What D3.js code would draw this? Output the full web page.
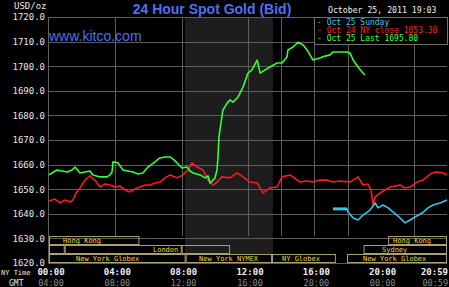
<!DOCTYPE html>
<html><head><meta charset="utf-8">
<script src="https://cdn.jsdelivr.net/npm/d3@7"></script>
<style>html,body{margin:0;padding:0;background:#000;overflow:hidden}</style>
</head><body>
<svg id="c" width="449" height="287"></svg>
<script>
// ---- data ----
const yTicks = [1620,1630,1640,1650,1660,1670,1680,1690,1700,1710,1720];
const nyTickHours = [0,4,8,12,16,20,24];
const nyTickLabels = ["00:00","04:00","08:00","12:00","16:00","20:00","20:59"];
const gmtTickLabels = ["04:00","08:00","12:00","16:00","20:00","00:00","00:59"];
const gridHours = [4,8,12,14,16,18,22];
const shadeHours = [8.2, 13.5];

// [hour, price]
const redHours  = [0,0.36,0.66,0.97,1.27,1.45,1.63,1.87,2.17,2.47,2.77,3.08,3.38,3.68,3.98,4.28,4.58,4.89,5.19,5.49,5.79,6.09,6.39,6.69,7.0,7.3,7.72,8.08,8.38,8.62,8.93,9.29,9.59,9.89,10.13,10.43,10.92,11.34,11.7,12.12,12.55,12.91,13.33,13.75,14.05,14.54,15.14,15.56,15.92,16.34,16.77,17.13,17.55,18.15,18.64,18.94,19.24,19.42,19.54,19.66,19.96,20.27,20.57,20.87,21.17,21.47,21.77,22.2,22.56,22.86,23.1,23.4,23.76,24.0];
const redPrices = [1645.2,1646.0,1644.4,1645.6,1644.8,1645.6,1648.5,1650.5,1653.7,1655.4,1653.7,1650.9,1652.1,1651.7,1650.9,1651.3,1649.7,1648.9,1650.1,1650.9,1651.7,1651.7,1652.5,1652.9,1654.6,1655.8,1654.6,1655.8,1657.8,1660.7,1659.0,1657.8,1653.7,1651.7,1652.9,1655.0,1654.6,1656.6,1655.0,1652.9,1652.5,1648.5,1650.5,1650.9,1655.0,1655.8,1652.9,1653.3,1652.9,1653.7,1653.7,1652.9,1653.3,1652.9,1655.0,1651.7,1652.1,1649.7,1643.6,1646.8,1648.5,1649.7,1650.9,1651.3,1651.7,1650.5,1650.9,1652.9,1653.7,1655.4,1656.6,1657.0,1656.6,1655.8];

const greenHours  = [0,0.18,0.48,0.78,1.09,1.39,1.57,1.87,2.17,2.47,2.65,3.08,3.5,3.68,3.8,3.86,4.16,4.46,4.76,5.07,5.37,5.67,5.97,6.39,6.69,7.0,7.3,7.54,7.72,8.02,8.32,8.5,8.69,9.11,9.41,9.59,9.71,9.89,10.01,10.13,10.19,10.25,10.37,10.49,10.74,10.92,11.1,11.4,11.7,12.0,12.24,12.55,12.73,13.03,13.33,13.75,14.05,14.35,14.41,14.72,15.02,15.32,15.56,15.92,16.34,16.64,16.95,17.13,17.55,17.97,18.15,18.34,18.64,18.88,19.06];
const greenPrices = [1655.8,1656.6,1657.8,1657.4,1657.0,1657.8,1659.0,1656.6,1657.0,1657.4,1655.8,1655.0,1655.0,1655.8,1657.0,1661.1,1660.7,1657.8,1657.4,1657.0,1656.2,1656.6,1659.0,1661.1,1662.7,1663.1,1663.1,1661.9,1660.7,1658.6,1659.0,1657.4,1656.6,1655.8,1654.6,1655.4,1652.5,1653.7,1654.6,1657.8,1663.1,1671.2,1676.9,1682.2,1685.0,1686.3,1685.4,1687.5,1691.5,1697.2,1698.5,1702.5,1697.2,1698.5,1699.7,1701.3,1701.3,1703.7,1706.6,1707.8,1709.8,1708.6,1706.6,1702.5,1703.3,1704.1,1704.6,1705.8,1705.8,1705.8,1705.4,1702.5,1699.7,1697.6,1696.4];

const cyanHours  = [17.13,17.4,17.7,17.97,18.03,18.34,18.64,18.94,19.36,19.66,19.84,20.14,20.45,20.75,21.17,21.47,21.77,22.07,22.5,22.86,23.16,23.58,24.0];
const cyanPrices = [1642.0,1642.0,1642.0,1642.0,1640.7,1638.3,1637.5,1639.5,1641.5,1644.4,1642.4,1643.6,1642.4,1640.7,1638.3,1636.3,1637.5,1638.7,1640.3,1642.4,1643.6,1644.4,1645.6];

const sessRows   = [0,0,1,1,1,1,2,2,2,2];
const sessStart  = [0,20.45,0,0.95,8.0,18.97,0,8.24,13.45,17.97];
const sessEnd    = [5.45,24,0.95,8.0,10.92,24,8.24,13.45,17.3,24];
const labelRows  = [0,0,1,1,2,2,2,2];
const labelHours = [0.85,20.75,6.27,20.08,1.63,9.05,14.05,18.94];
const labelTexts = ["Hong Kong","Hong Kong","London","Sydney","New York Globex","New York NYMEX","NY Globex","New York Globex"];

const legendTexts  = ["- Oct 25 Sunday","- Oct 24 NY close 1653.30","- Oct 25 Last 1695.80"];
const legendColors = ["#3cc8e8","#ff2020","#3cff3c"];

// ---- drawing ----
const svg = d3.select("#c");
const W=449,H=287, L=49, R=447, T=17, B=263;
const x = d3.scaleLinear().domain([0,24]).range([L,R]);
const y = d3.scaleLinear().domain([1620,1720]).range([B,T]);
const rowY = d3.scaleLinear().domain([0,1,2,3]).range([236,245,254,263]);
const mono = "'DejaVu Sans Mono', 'Liberation Mono', monospace";

svg.append("rect").attr("width",W).attr("height",H).attr("fill","#000");

// shade
svg.append("rect").attr("x",x(shadeHours[0])).attr("y",T)
  .attr("width",x(shadeHours[1])-x(shadeHours[0])).attr("height",rowY(2)-T)
  .attr("fill","#1d1d1d");

// grid
const gc = "#5e5e5e";
svg.append("g").selectAll("line").data(yTicks).join("line")
  .attr("x1",L-1).attr("x2",R).attr("y1",d=>Math.round(y(d))+0.5).attr("y2",d=>Math.round(y(d))+0.5)
  .attr("stroke",gc).attr("stroke-width",1);
svg.append("g").selectAll("line").data(gridHours).join("line")
  .attr("x1",d=>Math.round(x(d))+0.5).attr("x2",d=>Math.round(x(d))+0.5).attr("y1",T).attr("y2",rowY(0))
  .attr("stroke",gc).attr("stroke-width",1);
svg.append("line").attr("x1",L-0.5).attr("x2",L-0.5).attr("y1",T).attr("y2",B).attr("stroke",gc);

// y axis labels
const yAxis = d3.axisLeft(y).tickValues(yTicks).tickFormat(d3.format(".1f")).tickSize(0).tickPadding(4);
const ya = svg.append("g").attr("transform",`translate(${L},0)`).call(yAxis);
ya.select(".domain").remove();
ya.selectAll("text").attr("fill","#e8e8e8").style("font-family",mono).style("font-size","9px");

svg.append("text").attr("x",14).attr("y",9).text("USD/oz")
  .attr("fill","#e8e8e8").style("font-family",mono).style("font-size","9px");

// sessions
const sg = svg.append("g");
sessRows.forEach((r,i)=>{
  sg.append("rect").attr("x",x(sessStart[i])+0.5).attr("y",rowY(r)+0.5)
    .attr("width",x(sessEnd[i])-x(sessStart[i])-1).attr("height",rowY(r+1)-rowY(r)-1)
    .attr("fill","none").attr("stroke","#a8a070").attr("stroke-width",1);
});
labelRows.forEach((r,i)=>{
  sg.append("text").attr("x",x(labelHours[i])).attr("y",rowY(r)+7.2).text(labelTexts[i])
    .attr("fill","#f0d840").style("font-family",mono).style("font-size","7px");
});

// lines
const line = d3.line().x(d=>x(d[0])).y(d=>y(d[1]));
function drawSeries(hours, prices, color, w){
  svg.append("path").datum(hours.map((h,i)=>[h,prices[i]]))
    .attr("d",line).attr("fill","none").attr("stroke",color).attr("stroke-width",w)
    .attr("stroke-linejoin","round");
}
drawSeries(redHours, redPrices, "#ff1a1a", 1.6);
drawSeries(greenHours, greenPrices, "#33ff33", 1.6);
drawSeries(cyanHours, cyanPrices, "#33c6e6", 1.6);
svg.append("line").attr("x1",x(cyanHours[0])).attr("x2",x(cyanHours[3]))
  .attr("y1",y(cyanPrices[0])).attr("y2",y(cyanPrices[0])).attr("stroke","#33c6e6").attr("stroke-width",3);

// x axis labels
const xa = svg.append("g");
nyTickHours.forEach((h,i)=>{
  const last = i===nyTickHours.length-1;
  xa.append("text").attr("x", last? 448 : x(h)+2).attr("y",275).text(nyTickLabels[i])
    .attr("text-anchor", last? "end":"middle").attr("fill","#f0f0f0")
    .style("font-family",mono).style("font-size","9px").style("font-weight","bold");
  xa.append("text").attr("x", last? 448 : x(h)+2).attr("y",285.5).text(gmtTickLabels[i])
    .attr("text-anchor", last? "end":"middle").attr("fill","#8a8a8a")
    .style("font-family",mono).style("font-size","8.5px");
});
svg.append("text").attr("x",1).attr("y",274.5).text("NY Time").attr("fill","#e8e8e8")
  .style("font-family",mono).style("font-size","7px");
svg.append("text").attr("x",9).attr("y",285.5).text("GMT").attr("fill","#e8e8e8")
  .style("font-family",mono).style("font-size","8px");

// title + url
svg.append("text").attr("x",212).attr("y",14).attr("text-anchor","middle").text("24 Hour Spot Gold (Bid)")
  .attr("fill","#5070f0").style("font-family","'Liberation Sans', Arial, sans-serif")
  .style("font-size","14px").style("font-weight","bold");
svg.append("text").attr("x",49).attr("y",41).text("www.kitco.com")
  .attr("fill","#5070f0").style("font-family","'Liberation Sans', Arial, sans-serif").style("font-size","14px");

// legend
svg.append("text").attr("x",328).attr("y",13).text("October 25, 2011 19:03").attr("fill","#f0f0f0")
  .style("font-family",mono).style("font-size","8.2px");
svg.append("rect").attr("x",314.5).attr("y",17.5).attr("width",133).attr("height",27)
  .attr("fill","#000").attr("stroke","#707070");
legendTexts.forEach((t,i)=>{
  svg.append("text").attr("x",317).attr("y",25+i*8).text(t).attr("fill",legendColors[i])
    .style("font-family",mono).style("font-size","8px");
});
</script>
</body></html>
